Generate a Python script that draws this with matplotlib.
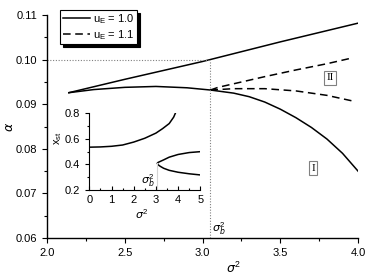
import matplotlib
matplotlib.use('Agg')
import matplotlib.pyplot as plt
from matplotlib.ticker import MultipleLocator, FormatStrFormatter

plt.rcParams['font.family'] = ['Liberation Sans', 'DejaVu Sans']
plt.rcParams['mathtext.fontset'] = 'custom'
plt.rcParams['mathtext.rm'] = 'Liberation Sans'
plt.rcParams['mathtext.it'] = 'DejaVu Sans:italic'

# main plot data: alpha vs sigma^2
up_x = [2.14, 2.5, 3.0, 3.5, 4.0]
up_y = [0.0926, 0.0956, 0.0996, 0.1040, 0.1082]
low_x = [2.14, 2.3, 2.5, 2.7, 2.9, 3.05, 3.2, 3.3, 3.4, 3.5, 3.6, 3.7, 3.8, 3.9, 4.0]
low_y = [0.0926, 0.0933, 0.0938, 0.0940, 0.0937, 0.0932, 0.0925, 0.0917, 0.0905,
         0.0889, 0.0870, 0.0848, 0.0822, 0.0790, 0.0750]
dash_up_x = [3.05, 3.1, 3.2, 3.4, 3.6, 3.8, 3.95]
dash_up_y = [0.0932, 0.0938, 0.0946, 0.0962, 0.0977, 0.0991, 0.1003]
dash_low_x = [3.05, 3.2, 3.4, 3.6, 3.8, 3.97]
dash_low_y = [0.0932, 0.0935, 0.0935, 0.0930, 0.0920, 0.0907]
sigma_b = 3.05
alpha_b = 0.10

# inset data: x_st vs sigma^2
in_up_x = [0, 0.5, 1.0, 1.5, 2.0, 2.5, 3.0, 3.3, 3.6, 3.8, 3.9]
in_up_y = [0.535, 0.537, 0.542, 0.552, 0.575, 0.605, 0.645, 0.68, 0.72, 0.77, 0.81]
in_c_x = [5.0, 4.5, 4.0, 3.6, 3.35, 3.2, 3.1, 3.06, 3.1, 3.2, 3.35, 3.6, 4.0, 4.5, 5.0]
in_c_y = [0.500, 0.493, 0.478, 0.457, 0.436, 0.424, 0.416, 0.409, 0.397, 0.385,
          0.370, 0.354, 0.339, 0.327, 0.318]

fs = 8
fig = plt.figure(figsize=(3.68, 2.75), dpi=100)
ax = fig.add_axes([0.128, 0.1345, 0.845, 0.8105])

lw = 1.1
ax.plot(up_x, up_y, color='black', lw=lw, label=r'u$_\mathregular{E}$ = 1.0')
ax.plot(low_x, low_y, color='black', lw=lw)
ax.plot(dash_up_x, dash_up_y, color='black', lw=lw, dashes=(5, 3),
        label=r'u$_\mathregular{E}$ = 1.1')
ax.plot(dash_low_x, dash_low_y, color='black', lw=lw, dashes=(5, 3))

ax.plot([2.0, sigma_b], [alpha_b, alpha_b], color='gray', lw=0.8, ls=(0, (1, 1.5)))
ax.plot([sigma_b, sigma_b], [0.06, alpha_b], color='gray', lw=0.8, ls=(0, (1, 1.5)))

ax.set_xlim(2.0, 4.0)
ax.set_ylim(0.06, 0.11)
ax.xaxis.set_major_locator(MultipleLocator(0.5))
ax.xaxis.set_minor_locator(MultipleLocator(0.25))
ax.yaxis.set_major_locator(MultipleLocator(0.01))
ax.yaxis.set_minor_locator(MultipleLocator(0.005))
ax.xaxis.set_major_formatter(FormatStrFormatter('%.1f'))
ax.yaxis.set_major_formatter(FormatStrFormatter('%.2f'))
ax.tick_params(which='both', direction='out', labelsize=fs, width=0.8)
ax.tick_params(which='major', length=3.5)
ax.tick_params(which='minor', length=2)
for s in ['top', 'right']:
    ax.spines[s].set_visible(False)
for s in ['left', 'bottom']:
    ax.spines[s].set_linewidth(1.0)

ax.set_xlabel(r'$\sigma^2$', fontsize=fs + 1)
ax.xaxis.set_label_coords(0.598, -0.10)
ax.set_ylabel(r'$\alpha$', fontsize=fs + 1)
ax.yaxis.set_label_coords(-0.10, 0.498)

ax.text(sigma_b + 0.01, 0.0603, r'$\sigma_b^2$', fontsize=fs, ha='left', va='bottom')

box = dict(boxstyle='square,pad=0.2', fc='white', ec='gray', lw=0.8)
ax.text(3.82, 0.0959, 'II', family='Liberation Serif', fontsize=fs,
        ha='center', va='center', bbox=box)
ax.text(3.71, 0.0757, 'I', family='Liberation Serif', fontsize=fs,
        ha='center', va='center', bbox=box)

leg = ax.legend(loc='upper left', bbox_to_anchor=(0.042, 1.025), fontsize=fs,
                frameon=True, fancybox=False, handlelength=2.4, handletextpad=0.3,
                borderpad=0.25, labelspacing=0.15, borderaxespad=0,
                shadow={'color': 'black', 'alpha': 1, 'ox': 2.2, 'oy': -2.2})
leg.get_frame().set_edgecolor('black')
leg.get_frame().set_linewidth(0.8)
leg.get_frame().set_alpha(1)

# inset
ins = fig.add_axes([0.2427, 0.309, 0.3016, 0.279])
ins.patch.set_alpha(0)
ins.plot(in_up_x, in_up_y, color='black', lw=lw)
ins.plot(in_c_x, in_c_y, color='black', lw=lw)
ins.plot([sigma_b, sigma_b], [0.2, 0.409], color='lightgray', lw=0.8)
ins.set_xlim(0, 5)
ins.set_ylim(0.2, 0.8)
ins.xaxis.set_major_locator(MultipleLocator(1))
ins.xaxis.set_minor_locator(MultipleLocator(0.5))
ins.yaxis.set_major_locator(MultipleLocator(0.2))
ins.yaxis.set_minor_locator(MultipleLocator(0.1))
ins.yaxis.set_major_formatter(FormatStrFormatter('%.1f'))
ins.tick_params(which='both', labelsize=fs, width=0.8)
ins.tick_params(axis='x', which='both', direction='in')
ins.tick_params(axis='y', which='both', direction='out')
ins.tick_params(which='major', length=3)
ins.tick_params(which='minor', length=1.8)
for s in ['top', 'right']:
    ins.spines[s].set_visible(False)
ins.set_ylabel(r'x$_\mathregular{st}$', fontsize=fs)
ins.yaxis.set_label_coords(-0.23, 0.675)
ins.set_xlabel(r'$\sigma^2$', fontsize=fs)
ins.xaxis.set_label_coords(0.475, -0.22)
ins.text(2.95, 0.205, r'$\sigma_b^2$', fontsize=fs, ha='right', va='bottom')

fig.savefig('out.png', dpi=100)
